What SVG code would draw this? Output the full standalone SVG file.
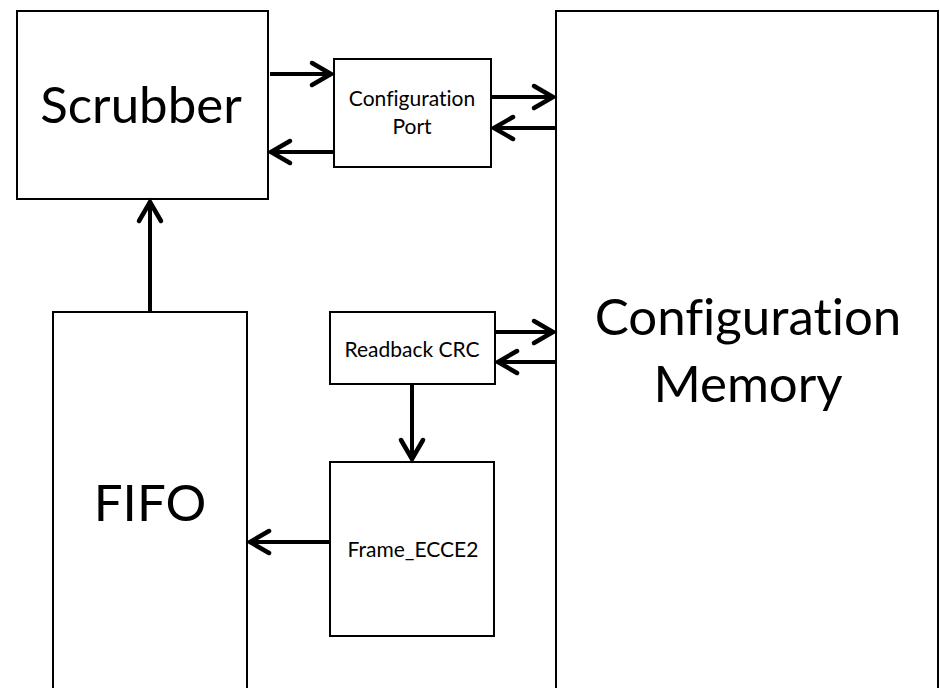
<svg xmlns="http://www.w3.org/2000/svg" width="940" height="688" viewBox="0 0 940 688">
  <style>
    text { font-family: Lato, "Open Sans", "Liberation Sans", sans-serif; fill: #000000; text-anchor: middle; font-variant-ligatures: none; }
    .box { fill: #ffffff; stroke: #000000; stroke-width: 2; }
    .big { font-size: 51px; }
    .small { font-size: 21px; }
    .wire { fill: none; stroke: #000000; stroke-width: 4; marker-end: url(#chevron); }
  </style>
  <defs>
    <marker id="chevron" markerUnits="userSpaceOnUse" viewBox="-24 -14 28 28" refX="0" refY="0" markerWidth="28" markerHeight="28" orient="auto" overflow="visible">
      <path d="M -19 -11 L 0 0 L -19 11" fill="none" stroke="#000000" stroke-width="4.5" stroke-linecap="round" stroke-linejoin="miter"/>
    </marker>
  </defs>
  <rect width="940" height="688" fill="#ffffff"/>

  <g id="scrubber">
    <rect class="box" x="17" y="11" width="251" height="188"/>
    <text class="big" x="141" y="123">Scrubber</text>
  </g>

  <g id="config-port">
    <rect class="box" x="334" y="59" width="157" height="108"/>
    <text class="small" x="412" y="106">Configuration</text>
    <text class="small" x="412" y="134">Port</text>
  </g>

  <g id="config-memory">
    <rect class="box" x="556" y="11" width="382" height="700"/>
    <text class="big" x="748" y="335">Configuration</text>
    <text class="big" x="748" y="402">Memory</text>
  </g>

  <g id="readback-crc">
    <rect class="box" x="330" y="312" width="165" height="72"/>
    <text class="small" x="412" y="357">Readback CRC</text>
  </g>

  <g id="frame-ecce2">
    <rect class="box" x="330" y="462" width="164" height="174"/>
    <text class="small" x="413" y="557">Frame_ECCE2</text>
  </g>

  <g id="fifo">
    <rect class="box" x="53" y="312" width="194" height="400"/>
    <text class="big" x="150" y="521">FIFO</text>
  </g>

  <g id="connectors">
    <line class="wire" x1="270" y1="74" x2="331" y2="74"/>
    <line class="wire" x1="334" y1="152" x2="271" y2="152"/>
    <line class="wire" x1="492" y1="97" x2="553" y2="97"/>
    <line class="wire" x1="556" y1="128" x2="494" y2="128"/>
    <line class="wire" x1="496" y1="332" x2="553" y2="332"/>
    <line class="wire" x1="556" y1="362" x2="498" y2="362"/>
    <line class="wire" x1="412" y1="385" x2="412" y2="459"/>
    <line class="wire" x1="330" y1="542" x2="250" y2="542"/>
    <line class="wire" x1="150" y1="311" x2="150" y2="202"/>
  </g>
</svg>
